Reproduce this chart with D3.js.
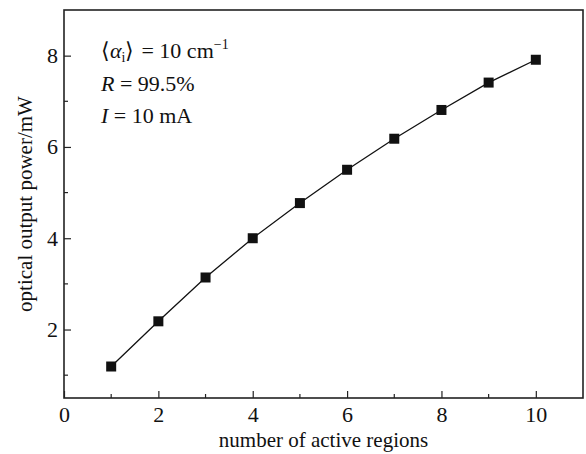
<!DOCTYPE html>
<html>
<head>
<meta charset="utf-8">
<script src="https://cdn.jsdelivr.net/npm/d3@7"></script>
<style>
  body { margin: 0; background: #fff; }
  text { font-family: "Liberation Serif", "Times New Roman", serif; fill: #111; }
</style>
</head>
<body>
<div id="chart"></div>
<script>
  // data
  var regions = [1, 2, 3, 4, 5, 6, 7, 8, 9, 10];
  var power = [1.19, 2.18, 3.14, 4.0, 4.77, 5.5, 6.18, 6.81, 7.41, 7.91];
  var xTicks = [0, 2, 4, 6, 8, 10];
  var yTicks = [2, 4, 6, 8];

  var width = 586, height = 454;
  var margin = {left: 64, top: 10, right: 3, bottom: 56};

  var svg = d3.select("#chart")
    .append("svg")
    .attr("width", width)
    .attr("height", height);

  var x = d3.scaleLinear().domain([0, 11]).range([margin.left, width - margin.right]);
  var y = d3.scaleLinear().domain([0.5, 9]).range([height - margin.bottom, margin.top]);

  var g = svg.append("g");

  // minor ticks
  g.selectAll(".xminor")
    .data(d3.range(1, 11, 2))
    .enter().append("line")
    .attr("x1", function(d) { return x(d); })
    .attr("x2", function(d) { return x(d); })
    .attr("y1", y(0.5))
    .attr("y2", y(0.5) - 4)
    .attr("stroke", "#222").attr("stroke-width", 1.2);

  g.selectAll(".yminor")
    .data(d3.range(1, 9, 2))
    .enter().append("line")
    .attr("x1", x(0))
    .attr("x2", x(0) + 4)
    .attr("y1", function(d) { return y(d); })
    .attr("y2", function(d) { return y(d); })
    .attr("stroke", "#222").attr("stroke-width", 1.2);

  // x axis
  var xAxis = g.append("g")
    .attr("transform", "translate(0," + y(0.5) + ")")
    .call(d3.axisBottom(x).tickValues(xTicks).tickSizeInner(-7).tickSizeOuter(0).tickPadding(8));
  xAxis.selectAll("text").style("font-size", "22px").style("font-family", "Liberation Serif");

  // y axis
  var yAxis = g.append("g")
    .attr("transform", "translate(" + x(0) + ",0)")
    .call(d3.axisLeft(y).tickValues(yTicks).tickSizeInner(-7).tickSizeOuter(0).tickPadding(6));
  yAxis.selectAll("text").style("font-size", "22px").style("font-family", "Liberation Serif");

  g.selectAll(".domain").remove();
  g.selectAll(".tick line").attr("stroke", "#222").attr("stroke-width", 1.2);

  // frame
  svg.append("rect")
    .attr("x", x(0))
    .attr("y", y(9))
    .attr("width", x(11) - x(0))
    .attr("height", y(0.5) - y(9))
    .attr("fill", "none")
    .attr("stroke", "#222")
    .attr("stroke-width", 1.6);

  // line + markers
  var pts = regions.map(function(d, i) { return [d, power[i]]; });
  var line = d3.line()
    .x(function(d) { return x(d[0]); })
    .y(function(d) { return y(d[1]); });

  svg.append("path")
    .datum(pts)
    .attr("d", line)
    .attr("fill", "none")
    .attr("stroke", "#111")
    .attr("stroke-width", 1.3);

  svg.selectAll(".pt")
    .data(pts)
    .enter().append("rect")
    .attr("x", function(d) { return x(d[0]) - 5; })
    .attr("y", function(d) { return y(d[1]) - 5; })
    .attr("width", 10)
    .attr("height", 10)
    .attr("fill", "#111");

  // annotation
  var ann = svg.append("g").style("font-size", "22px");
  var t1 = ann.append("text").attr("x", 101).attr("y", 58);
  t1.append("tspan").text("\u27E8");
  t1.append("tspan").style("font-style", "italic").text("\u03B1");
  t1.append("tspan").attr("dy", 4).style("font-size", "14px").text("i");
  t1.append("tspan").attr("dy", -4).text("\u27E9");
  t1.append("tspan").attr("dx", 7).text("= 10 cm");
  t1.append("tspan").attr("dy", -9).style("font-size", "14px").text("\u22121");

  var t2 = ann.append("text").attr("x", 101).attr("y", 91);
  t2.append("tspan").style("font-style", "italic").text("R");
  t2.append("tspan").text(" = 99.5%");

  var t3 = ann.append("text").attr("x", 101).attr("y", 123);
  t3.append("tspan").style("font-style", "italic").text("I");
  t3.append("tspan").text(" = 10 mA");

  // axis titles
  svg.append("text")
    .attr("x", (x(0) + x(11)) / 2)
    .attr("y", 447)
    .attr("text-anchor", "middle")
    .style("font-size", "21px")
    .text("number of active regions");

  svg.append("text")
    .attr("transform", "translate(32," + (y(0.5) + y(9)) / 2 + ") rotate(-90)")
    .attr("text-anchor", "middle")
    .style("font-size", "21px")
    .text("optical output power/mW");
</script>
</body>
</html>
